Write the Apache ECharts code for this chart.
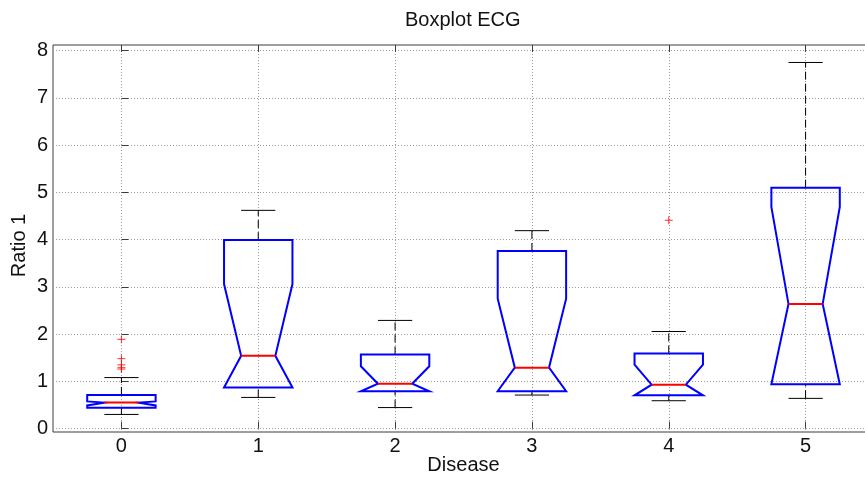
<!DOCTYPE html>
<html><head><meta charset="utf-8">
<script src="https://cdn.jsdelivr.net/npm/echarts@6/dist/echarts.min.js"></script>
<style>html,body{margin:0;padding:0;background:#fff}#c{width:865px;height:478px}</style>
</head><body><div id="c"></div>
<script>
// ---- data ----
const categories   = [0, 1, 2, 3, 4, 5];
const lowerWhisker = [0.30, 0.66, 0.445, 0.71, 0.59, 0.64];
const q1           = [0.44, 0.87, 0.79, 0.79, 0.705, 0.94];
const notchLow     = [0.49, 0.87, 0.79, 0.79, 0.705, 0.94];
const median       = [0.55, 1.54, 0.95, 1.29, 0.93, 2.64];
const notchHigh    = [0.575, 3.06, 1.32, 2.75, 1.356, 4.69];
const q3           = [0.71, 3.99, 1.57, 3.76, 1.59, 5.10];
const upperWhisker = [1.08, 4.62, 2.29, 4.19, 2.055, 7.75];
const outlierGroup = [0, 0, 0, 0, 0, 4];
const outlierValue = [1.89, 1.48, 1.35, 1.29, 1.26, 4.41];
const xTicks = [0, 1, 2, 3, 4, 5];
const yTicks = [0, 1, 2, 3, 4, 5, 6, 7, 8];

const FONT = "'Liberation Sans', Arial, sans-serif";
const TXT = '#111111';
const FRAME = '#3c3c3c';
const GRIDC = '#9a9a9a';

const boxData = categories.map((c, i) => [c, lowerWhisker[i], q1[i], notchLow[i], median[i], notchHigh[i], q3[i], upperWhisker[i]]);
const outlierData = outlierGroup.map((g, i) => [g, outlierValue[i]]);

function renderBox(params, api) {
  const x = api.value(0);
  const lw = api.value(1), b = api.value(2), nl = api.value(3), m = api.value(4),
        nh = api.value(5), t = api.value(6), uw = api.value(7);
  const H = 0.25, N = 0.125, C = 0.125;
  const p = (dx, y) => api.coord([x + dx, y]);
  const c0 = p(0, 0)[0];
  const blk = { stroke: '#000', lineWidth: 1 };
  const children = [
    { type: 'line', shape: { x1: c0, y1: p(0, t)[1], x2: c0, y2: p(0, uw)[1] },
      style: { stroke: '#000', lineWidth: 1, lineDash: [8, 4] } },
    { type: 'line', shape: { x1: c0, y1: p(0, lw)[1], x2: c0, y2: p(0, b)[1] },
      style: { stroke: '#000', lineWidth: 1, lineDash: [8, 4] } },
    { type: 'line', shape: { x1: p(-C, uw)[0], y1: p(0, uw)[1], x2: p(C, uw)[0], y2: p(0, uw)[1] }, style: blk },
    { type: 'line', shape: { x1: p(-C, lw)[0], y1: p(0, lw)[1], x2: p(C, lw)[0], y2: p(0, lw)[1] }, style: blk },
    { type: 'polygon', shape: { points: [p(-H, t), p(H, t), p(H, nh), p(N, m), p(H, nl), p(H, b), p(-H, b), p(-H, nl), p(-N, m), p(-H, nh)] },
      style: { fill: 'none', stroke: '#0000ff', lineWidth: 2, lineJoin: 'miter' } },
    { type: 'line', shape: { x1: p(-N, m)[0], y1: p(0, m)[1], x2: p(N, m)[0], y2: p(0, m)[1] },
      style: { stroke: '#ff0000', lineWidth: 2 } }
  ];
  return { type: 'group', children };
}

const chart = echarts.init(document.getElementById('c'), null, { renderer: 'canvas' });
const tickStyle = { color: FRAME, width: 1 };
chart.setOption({
  animation: false,
  backgroundColor: '#ffffff',
  title: {
    text: 'Boxplot ECG', left: 405, top: 10, padding: 0,
    textStyle: { fontFamily: FONT, fontSize: 20, fontWeight: 'normal', color: TXT }
  },
  grid: { left: 53, width: 821, top: 45, height: 387, containLabel: false, outerBoundsMode: 'none',
          show: true, borderColor: FRAME, borderWidth: 1, backgroundColor: 'transparent' },
  xAxis: [
    {
      type: 'value', min: -0.5, max: 5.5, position: 'bottom',
      axisLine: { show: false },
      axisTick: { show: true, inside: true, length: 7, customValues: xTicks, lineStyle: tickStyle },
      axisLabel: { customValues: xTicks, margin: 4, fontSize: 20, fontFamily: FONT, color: TXT },
      splitLine: { show: true, lineStyle: { type: [1, 2], color: GRIDC, width: 1 } },
      name: 'Disease', nameLocation: 'middle', nameGap: 23, nameMoveOverlap: false,
      nameTextStyle: { fontFamily: FONT, fontSize: 20, color: TXT }
    },
    {
      type: 'value', min: -0.5, max: 5.5, position: 'top',
      axisLine: { show: false },
      axisTick: { show: true, inside: true, length: 7, customValues: xTicks, lineStyle: tickStyle },
      axisLabel: { show: false },
      splitLine: { show: false }
    }
  ],
  yAxis: [
    {
      type: 'value', min: -0.072, max: 8.12, position: 'left',
      axisLine: { show: false },
      axisTick: { show: true, inside: true, length: 7, customValues: yTicks, lineStyle: tickStyle },
      axisLabel: { customValues: yTicks, margin: 5, fontSize: 20, fontFamily: FONT, color: TXT },
      splitLine: { show: true, lineStyle: { type: [1, 2], color: GRIDC, width: 1 } },
      name: 'Ratio 1', nameLocation: 'middle', nameGap: 24, nameMoveOverlap: false,
      nameTextStyle: { fontFamily: FONT, fontSize: 20, color: TXT, padding: [0, 14, 0, 0] }
    }
  ],
  series: [
    {
      type: 'custom', xAxisIndex: 0, yAxisIndex: 0, renderItem: renderBox,
      data: boxData, encode: { x: 0, y: [1, 2, 3, 4, 5, 6, 7] }, clip: false, z: 3
    },
    {
      type: 'scatter', xAxisIndex: 0, yAxisIndex: 0, data: outlierData,
      symbol: 'path://M0,5L10,5M5,0L5,10', symbolSize: 8,
      itemStyle: { color: 'none', borderColor: '#ff0000', borderWidth: 1 }, z: 4
    }
  ]
});
</script>
</body></html>
